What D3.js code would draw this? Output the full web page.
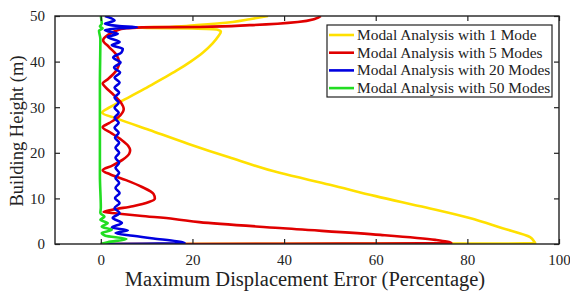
<!DOCTYPE html>
<html>
<head>
<meta charset="utf-8">
<script src="https://cdn.jsdelivr.net/npm/d3@7"></script>
<style>
  body { margin: 0; background: #fff; }
  text { font-family: "Liberation Serif", "Times New Roman", serif; }
</style>
</head>
<body>
<script>
// values: height (m) and error (%) per series
const yellowH = [0, 0.15, 0.5, 1.5, 3.5, 5.7, 8, 10.5, 13, 15.6, 19, 22, 25, 27.5, 28.8, 30, 32, 34, 36, 38, 40, 42, 44, 45.5, 46.6, 47.0, 47.25, 47.4, 47.5, 47.6, 48.0, 48.7, 49.3, 50];
const yellowE = [0, 94.8, 94.6, 93.7, 87.5, 80.5, 71, 60, 50, 39, 28, 19, 10.6, 3.6, 0.3, 2, 5.8, 9.5, 13, 16.5, 19.6, 22.3, 24.4, 25.6, 26.2, 25.5, 20, 10, 8, 15, 21, 28.8, 32.5, 36.5];

const redH = [0, 0.2, 0.9, 2, 3.5, 4.8, 5.5, 6.2, 6.7, 7.0, 7.5, 8.3, 9.2, 10, 11, 12.5, 14, 15.3, 16.2, 17.2, 18.5, 19.8, 20.6, 21.5, 23, 24.5, 25.6, 26.5, 27.8, 29.6, 31, 33, 34.4, 35.2, 36.2, 37.8, 39.8, 41.5, 43.2, 44.7, 45.8, 46.7, 47.3, 47.5, 47.6, 48, 48.7, 49.4, 50];
const redE = [0, 76.5, 73, 61, 39, 21.5, 16, 8.5, 3.5, 0.6, 2.5, 7, 10.5, 11.8, 11.5, 9, 5.5, 2, 0.4, 2.5, 4.8, 6.2, 6.4, 6, 4.3, 2, 0.4, 1.8, 3.8, 5.0, 4.4, 2.5, 1, 0.4, 1.6, 3.2, 4.0, 3.4, 1.8, 0.5, 1.5, 3.2, 5.5, 9, 21.6, 32.5, 43, 46.8, 48];

const blueH = [0, 0.2, 0.6, 1.2, 1.8, 2.4, 3.0, 3.6, 4.6, 5.7, 6.8, 7.9, 9.0, 10.1, 11.2, 12.3, 13.4, 14.5, 15.6, 16.7, 17.8, 18.9, 20.0, 21.1, 22.2, 23.3, 24.4, 25.5, 26.6, 27.7, 28.8, 29.9, 31.0, 32.1, 33.2, 34.3, 35.4, 36.5, 37.6, 38.7, 39.8, 40.9, 42.0, 42.8, 43.6, 44.3, 45.4, 46.1, 46.9, 47.3, 47.55, 47.8, 48.3, 49.0, 50];
const blueE = [0, 18.3, 16.5, 11.5, 7, 3.2, 5.9, 2.4, 4.6, 2.6, 4.1, 3.0, 4.1, 3.1, 4.1, 3.2, 4.0, 3.2, 4.0, 3.2, 4.0, 3.2, 4.0, 3.2, 4.0, 3.1, 3.9, 3.0, 3.9, 3.0, 3.9, 3.0, 3.9, 3.0, 4.0, 3.0, 4.1, 3.0, 4.2, 2.9, 4.3, 2.7, 4.5, 4.8, 2.4, 4.1, 1.5, 3.7, 0.9, 4, 7.9, 4, 0.9, 3, 0.9];

const greenH = [0, 0.4, 1.1, 1.8, 2.4, 3.1, 3.8, 4.6, 5.3, 6.0, 6.8, 8, 15, 25, 35, 45, 46.8, 47.3, 47.7, 48.3, 50];
const greenE = [0, 1.5, 5.6, 1, 0.2, 2.4, 0.2, 1.5, -0.1, 0.8, -0.1, 0, -0.2, -0.2, -0.2, -0.1, -0.4, 0.4, -0.2, 0.2, 0];

const seriesNames = ["Modal Analysis with 1 Mode", "Modal Analysis with 5 Modes", "Modal Analysis with 20 Modes", "Modal Analysis with 50 Modes"];
const seriesColors = ["#ffe000", "#e00000", "#0000e0", "#22dd22"];
const xTicks = [0, 20, 40, 60, 80, 100];
const yTicks = [0, 10, 20, 30, 40, 50];

let W = 570, H = 291;
let margin = {top: 16, right: 11, bottom: 47, left: 55};

let svg = d3.select("body").append("svg")
  .attr("width", W)
  .attr("height", H);

let x = d3.scaleLinear().domain([-10, 100]).range([margin.left, W - margin.right]);
let y = d3.scaleLinear().domain([0, 50]).range([H - margin.bottom, margin.top]);

svg.append("clipPath").attr("id", "plotclip")
  .append("rect")
  .attr("x", margin.left).attr("y", margin.top)
  .attr("width", W - margin.left - margin.right)
  .attr("height", H - margin.top - margin.bottom);

const series = [
  d3.zip(yellowH, yellowE),
  d3.zip(redH, redE),
  d3.zip(blueH, blueE),
  d3.zip(greenH, greenE)
];

let line = d3.line()
  .x(d => x(d[1]))
  .y(d => y(d[0]))
  .curve(d3.curveMonotoneY);

svg.append("g").attr("clip-path", "url(#plotclip)")
  .selectAll("path")
  .data(series)
  .enter()
  .append("path")
    .attr("d", line)
    .attr("fill", "none")
    .attr("stroke", (d, i) => seriesColors[i])
    .attr("stroke-width", 2.6)
    .attr("stroke-linejoin", "round");

// axes, ticks pointing inwards on all four sides
let xAxis = svg.append("g")
  .attr("transform", "translate(0," + (H - margin.bottom) + ")")
  .call(d3.axisBottom(x).tickValues(xTicks).tickSize(-5).tickSizeOuter(0).tickPadding(10));
let xTop = svg.append("g")
  .attr("transform", "translate(0," + margin.top + ")")
  .call(d3.axisTop(x).tickValues(xTicks).tickSize(-5).tickSizeOuter(0).tickFormat(""));
let yAxis = svg.append("g")
  .attr("transform", "translate(" + margin.left + ",0)")
  .call(d3.axisLeft(y).tickValues(yTicks).tickSize(-5).tickSizeOuter(0).tickPadding(10));
let yRight = svg.append("g")
  .attr("transform", "translate(" + (W - margin.right) + ",0)")
  .call(d3.axisRight(y).tickValues(yTicks).tickSize(-5).tickSizeOuter(0).tickFormat(""));

svg.selectAll(".domain").remove();
svg.selectAll(".tick line").attr("stroke", "#222").attr("stroke-width", 1.2);
svg.selectAll(".tick text")
  .attr("font-family", "Liberation Serif, serif")
  .attr("font-size", "15px")
  .attr("fill", "#222");

svg.append("rect")
  .attr("x", margin.left).attr("y", margin.top)
  .attr("width", W - margin.left - margin.right)
  .attr("height", H - margin.top - margin.bottom)
  .attr("fill", "none")
  .attr("stroke", "#222")
  .attr("stroke-width", 1.4);

svg.append("text")
  .attr("x", 305)
  .attr("y", 285.5)
  .attr("text-anchor", "middle")
  .attr("font-size", "20.5px")
  .attr("fill", "#222")
  .text("Maximum Displacement Error (Percentage)");

svg.append("text")
  .attr("text-anchor", "middle")
  .attr("font-size", "18.5px")
  .attr("fill", "#222")
  .attr("transform", "translate(23,131) rotate(-90)")
  .text("Building Height (m)");

// legend
let lg = svg.append("g");
lg.append("rect")
  .attr("x", 327).attr("y", 25)
  .attr("width", 225).attr("height", 72)
  .attr("fill", "#fff")
  .attr("stroke", "#222")
  .attr("stroke-width", 1.2);

let rows = lg.selectAll("g.row")
  .data(seriesNames)
  .enter()
  .append("g")
    .attr("transform", (d, i) => "translate(0," + (35 + i * 17.7) + ")");
rows.append("line")
  .attr("x1", 329).attr("x2", 354)
  .attr("stroke", (d, i) => seriesColors[i])
  .attr("stroke-width", 2.6);
rows.append("text")
  .attr("x", 357)
  .attr("y", 5)
  .attr("font-size", "15.4px")
  .attr("fill", "#222")
  .text(d => d);
</script>
</body>
</html>
